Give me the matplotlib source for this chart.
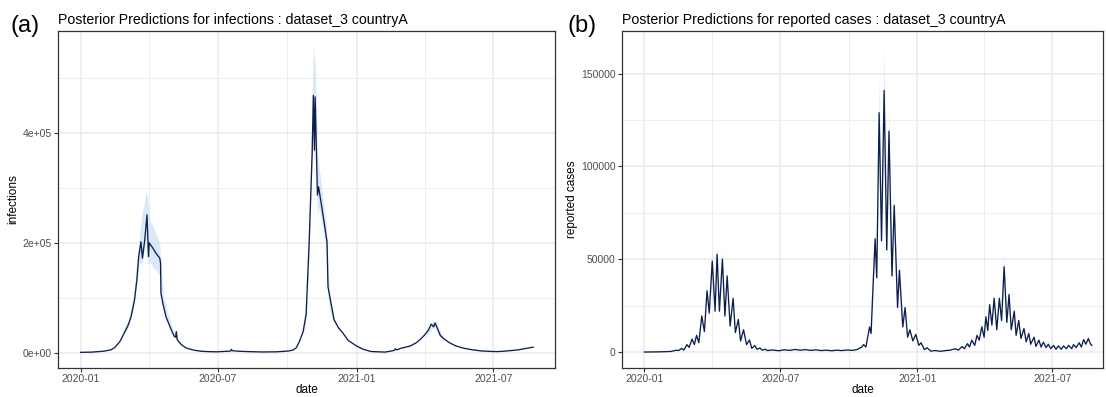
import numpy as np
import pandas as pd
import matplotlib
matplotlib.use("Agg")
from matplotlib import pyplot as plt

plt.rcParams['font.family'] = ['Liberation Sans', 'DejaVu Sans']

START = pd.Timestamp("2020-01-01")

# posterior median of infections (days since 2020-01-01, value in thousands)
inf_day = [0, 15, 30, 40, 45, 52, 58, 63, 67, 71.5, 74.6, 77, 80, 82, 85, 88, 90, 91,
           96, 100, 105, 106, 106.5, 109, 113, 120, 124, 126, 127, 128, 130, 134, 140,
           150, 160, 170, 181, 195, 199, 200, 201, 210, 224, 240, 260, 276, 282, 286,
           290, 295, 299, 303, 307, 308.6, 310, 311, 314, 315.5, 319, 323, 326.7, 328,
           332, 336, 342, 347, 355, 366, 375, 385, 404, 416, 417, 419, 425, 437, 445,
           451, 456, 461, 465, 468, 470, 474, 477, 482, 489, 498, 508, 520, 532, 540,
           546, 555, 565, 580, 590, 600]
inf_val = [0.5, 1, 2.5, 5, 9, 20, 36, 50, 66, 96, 133, 175, 202, 172, 205, 251, 175, 200,
           190, 181, 172, 163, 108, 90, 66, 42, 30, 28, 38, 24, 20, 14, 8.5,
           4.5, 2.5, 1.8, 1.5, 2.5, 3, 6, 3.5, 2.5, 1.8, 1.2, 1.5, 3, 5, 9,
           20, 38, 70, 200, 363, 469, 369, 466, 287, 302, 272, 236, 202, 120,
           90, 60, 45, 37, 22, 12, 6, 2, 1, 4, 7, 5, 8, 12, 18,
           25, 32, 41, 52, 47, 54, 41, 31, 25, 18, 12, 8, 5, 3, 2.5,
           2, 2, 3, 5, 7.5, 10]

# credible interval around the infection peaks
inf_band_day = [[55, 63, 70, 75, 78, 81, 84, 87, 89, 92, 96, 100, 105, 107, 110, 115, 122, 130],
                [296, 300, 303, 306, 308, 309, 310, 311, 312, 314, 316, 319, 323, 326, 328, 330, 333, 337],
                [458, 463, 467, 470, 473, 477, 481]]
inf_band_hi = [[40, 58, 105, 170, 215, 250, 270, 295, 280, 240, 230, 215, 200, 150, 105, 75, 45, 22],
               [50, 100, 230, 400, 540, 565, 520, 545, 480, 360, 340, 310, 265, 230, 160, 115, 85, 60],
               [35, 47, 56, 58, 50, 38, 29]]
inf_band_lo = [[32, 44, 82, 130, 165, 160, 185, 210, 160, 165, 155, 150, 140, 95, 78, 58, 35, 18],
               [35, 70, 170, 320, 420, 410, 330, 400, 330, 250, 265, 240, 210, 175, 100, 80, 65, 50],
               [28, 38, 44, 48, 36, 27, 22]]

# posterior median of reported cases (days since 2020-01-01, value in thousands)
case_day = [0, 20, 35, 43, 46, 50, 53, 57, 60, 64, 67, 70, 73, 77, 80.5, 84, 87, 91, 94.8,
            97.5, 100.6, 104.6, 108, 111, 115, 119, 122, 126, 129, 133, 137, 141, 144, 148,
            151, 155, 158, 162, 165, 172, 180, 188, 195, 202, 209, 216, 223, 230, 237, 244,
            251, 258, 265, 272, 279, 285, 291.5, 294, 297, 302, 304, 309.4, 311.6, 314.8,
            318, 321.5, 325, 328, 332, 335, 339.5, 342, 346.5, 349.6, 353, 356, 360, 364,
            368, 371, 375.5, 379, 384, 390, 397, 404, 410, 417, 421, 426, 429, 433.3, 436,
            439, 443, 446, 449, 452.5, 455.6, 458, 460.5, 463, 466, 469, 472.6, 476, 479,
            482.4, 486, 489, 492, 496, 498.5, 502, 505, 509, 512, 515.5, 518, 522.6, 525,
            529, 532, 535, 538.6, 541.7, 545, 548.6, 552, 555, 559, 562, 566, 569, 573,
            575.5, 579, 583, 586, 589, 592, 595.4, 598, 600]
case_val = [0, 0.1, 0.3, 1, 0.8, 2, 1, 4, 2.5, 7, 4, 9, 5, 19.4, 11, 33, 21, 49, 22,
            52.7, 22, 50, 19.4, 41, 14, 29, 10.5, 17.6, 6, 12, 4, 6.5, 2, 3.5,
            1.5, 2.2, 1.0, 1.5, 0.8, 1.1, 0.7, 1.2, 0.9, 1.4, 1.0, 1.3, 0.9, 1.2, 0.8, 1.0,
            0.7, 1.0, 0.8, 1.1, 0.9, 1.3, 2.7, 4, 2.7, 13.5, 10, 61, 40, 129,
            60, 141, 55, 119, 41, 79, 24, 44, 13.5, 24, 8, 12, 6, 9.5,
            3.6, 5, 1.3, 2.3, 0.5, 0.8, 0.4, 0.8, 1, 1.8, 1.0, 3, 1.8, 4.5, 2.7,
            6.4, 3.6, 9, 6.4, 13.6, 8, 19, 11.6, 25.5, 14.5, 29, 12, 29, 17,
            46, 16, 31, 12, 22, 9, 17, 7.3, 12.7, 5.5, 10, 4.2, 8, 3,
            6.4, 2.7, 5.3, 2.4, 4.2, 1.8, 3.6, 1.5, 3.3, 1.5, 3.3, 1.8, 3.6, 1.8,
            4, 2.4, 5, 2.7, 6.7, 4.2, 7.3, 4.5, 3.6]

case_band_day = [[84, 87, 91, 94.8, 97.5, 100.6, 104.6, 108, 111],
                 [302, 309.4, 311.6, 314.8, 318, 321.5, 325, 328, 332, 335, 339.5, 342, 346.5],
                 [476, 479, 482.4, 486, 489]]
case_band_hi = [[36, 23, 55, 24, 59, 24, 55, 21, 45],
                [15, 68, 44, 148, 66, 165, 60, 132, 45, 88, 27, 49, 15],
                [31, 18, 52, 17, 34]]
case_band_lo = [[30, 19, 44, 20, 47, 20, 45, 18, 37],
                [12, 55, 37, 118, 55, 128, 50, 108, 37, 71, 21, 40, 12],
                [26, 15, 41, 14, 28]]

x_major = ["2020-01-01", "2020-07-01", "2021-01-01", "2021-07-01"]
x_minor = ["2020-04-01", "2020-10-01", "2021-04-01"]

LINE = "#0e1f4f"
BAND = "#cfe2f5"
GRID = "#ebebeb"


def to_dates(days):
    return START + pd.to_timedelta(np.asarray(days, dtype=float), unit="D")


def style_axes(ax, xlim_days, ylim, yticks, ylabels, yminor):
    ax.set_xlim(to_dates(xlim_days))
    ax.set_ylim(ylim)
    ax.set_xticks(pd.to_datetime(x_major))
    ax.set_xticklabels([d[:7] for d in x_major])
    ax.set_xticks(pd.to_datetime(x_minor), minor=True)
    ax.set_yticks(yticks)
    ax.set_yticklabels(ylabels)
    ax.set_yticks(yminor, minor=True)
    ax.grid(True, which="major", color=GRID, linewidth=1.1, zorder=0)
    ax.grid(True, which="minor", color=GRID, linewidth=0.6, zorder=0)
    ax.set_axisbelow(True)
    ax.tick_params(which="major", length=3, width=0.8, color="#333333",
                   labelsize=7.5, labelcolor="#4d4d4d", pad=1.5)
    ax.tick_params(which="minor", length=0)
    for s in ax.spines.values():
        s.set_color("#333333")
        s.set_linewidth(0.9)
    ax.set_xlabel("date", fontsize=8.5, labelpad=0)


fig = plt.figure(figsize=(11.06, 3.97), dpi=100)
W, H = 1106, 397

# (a) infections
ax1 = fig.add_axes([58 / W, (H - 368) / H, (555 - 58) / W, (368 - 31) / H])
for d, lo, hi in zip(inf_band_day, inf_band_lo, inf_band_hi):
    ax1.fill_between(to_dates(d), np.array(lo) * 1e3, np.array(hi) * 1e3,
                     color=BAND, alpha=0.75, linewidth=0, zorder=2)
ax1.plot(to_dates(inf_day), np.array(inf_val) * 1e3, color=LINE, linewidth=0.95, zorder=3)
style_axes(ax1, [-30, 629], (-28000, 586000), [0, 2e5, 4e5],
           ["0e+00", "2e+05", "4e+05"], [1e5, 3e5, 5e5])
ax1.set_ylabel("infections", fontsize=8.5, labelpad=2)
ax1.set_title("Posterior Predictions for infections : dataset_3 countryA",
              fontsize=10.2, loc="left", pad=5)
fig.text(25 / W, 1 - 26 / H, "(a)", fontsize=17, ha="center", va="center")

# (b) reported cases
ax2 = fig.add_axes([622 / W, (H - 368) / H, (1103 - 622) / W, (368 - 31) / H])
for d, lo, hi in zip(case_band_day, case_band_lo, case_band_hi):
    ax2.fill_between(to_dates(d), np.array(lo) * 1e3, np.array(hi) * 1e3,
                     color=BAND, alpha=0.75, linewidth=0, zorder=2)
ax2.plot(to_dates(case_day), np.array(case_val) * 1e3, color=LINE, linewidth=0.95, zorder=3)
style_axes(ax2, [-30, 615], (-8600, 173000), [0, 50000, 100000, 150000],
           ["0", "50000", "100000", "150000"], [25000, 75000, 125000])
ax2.set_ylabel("reported cases", fontsize=8.5, labelpad=2)
ax2.set_title("Posterior Predictions for reported cases : dataset_3 countryA",
              fontsize=10.2, loc="left", pad=5)
fig.text(582 / W, 1 - 26 / H, "(b)", fontsize=17, ha="center", va="center")

fig.savefig("out.png", dpi=100)
